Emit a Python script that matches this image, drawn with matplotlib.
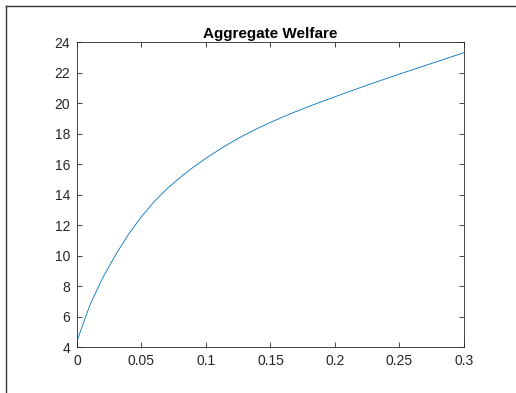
import matplotlib
matplotlib.use('Agg')
import matplotlib.pyplot as plt
from matplotlib.lines import Line2D

plt.rcParams['font.family'] = ['Liberation Sans', 'DejaVu Sans']

# ── Data ─────────────────────────────────────────────────────────────────────
tax = [0.00, 0.01, 0.02, 0.03, 0.04, 0.05, 0.06, 0.07, 0.08, 0.09, 0.10,
       0.11, 0.12, 0.13, 0.14, 0.15, 0.16, 0.17, 0.18, 0.19, 0.20,
       0.21, 0.22, 0.23, 0.24, 0.25, 0.26, 0.27, 0.28, 0.29, 0.30]
welfare = [4.4, 6.75, 8.55, 10.05, 11.4, 12.55, 13.55, 14.4, 15.12, 15.78, 16.38,
           16.93, 17.44, 17.91, 18.34, 18.73, 19.1, 19.45, 19.78, 20.1, 20.41,
           20.72, 21.02, 21.32, 21.61, 21.9, 22.18, 22.46, 22.74, 23.02, 23.3]

xticks = [0, 0.05, 0.1, 0.15, 0.2, 0.25, 0.3]
xtick_labels = ['0', '0.05', '0.1', '0.15', '0.2', '0.25', '0.3']
yticks = [4, 6, 8, 10, 12, 14, 16, 18, 20, 22, 24]

fig = plt.figure(figsize=(5.16, 3.93), dpi=100)
fig.patch.set_facecolor('white')
ax = fig.add_axes([0.1492, 0.1170, 0.75, 0.7761])

ax.plot(tax, welfare, color='#0072BD', lw=0.6)

ax.set_xlim(0, 0.3)
ax.set_ylim(4, 24)
ax.set_xticks(xticks)
ax.set_xticklabels(xtick_labels)
ax.set_yticks(yticks)
ax.tick_params(direction='in', top=True, right=True, length=3.5,
               width=0.6, labelsize=10, colors='#262626', pad=5)
for s in ax.spines.values():
    s.set_color('#262626')
    s.set_linewidth(0.6)

ax.set_title('Aggregate Welfare', fontsize=11, fontweight='bold',
             color='black', pad=3)

# window frame edges from the screenshot
fig.add_artist(Line2D([6 / 516, 1], [1 - 6 / 393, 1 - 6 / 393],
                      transform=fig.transFigure, color='#333333', lw=1.0))
fig.add_artist(Line2D([6 / 516, 6 / 516], [0, 1 - 6 / 393],
                      transform=fig.transFigure, color='#333333', lw=1.0))

fig.savefig('out.png', dpi=100, facecolor='white')
